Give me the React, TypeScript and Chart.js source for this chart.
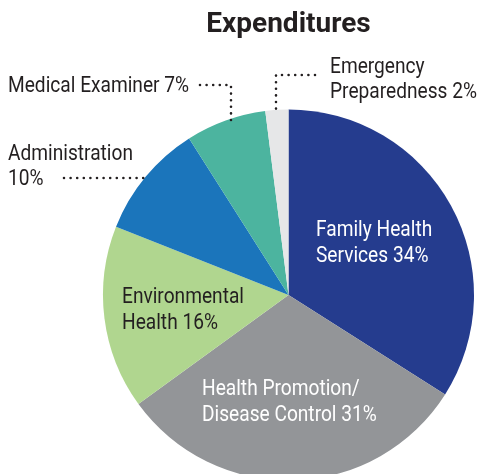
import React, { useEffect, useRef } from "react";
import { Chart, registerables } from "chart.js";

Chart.register(...registerables);

const titleText = "Expenditures";
const categories = [
  "Family Health Services",
  "Health Promotion/Disease Control",
  "Environmental Health",
  "Administration",
  "Medical Examiner",
  "Emergency Preparedness",
];
const values = [34, 31, 16, 10, 7, 2];
const colors = ["#253c8e", "#939598", "#b0d68f", "#1b75bb", "#4cb49f", "#e6e7e8"];
const labelLines = [
  ["Family Health", "Services"],
  ["Health Promotion/", "Disease Control"],
  ["Environmental", "Health"],
  ["Administration", ""],
  ["Medical Examiner"],
  ["Emergency", "Preparedness"],
];

const DARK = "#231f20";
const SX = 0.87;

function linesFor(i: number): string[] {
  const l = labelLines[i].slice();
  const last = l.length - 1;
  l[last] = l[last] ? `${l[last]} ${values[i]}%` : `${values[i]}%`;
  return l;
}

const labelPlugin = {
  id: "customLabels",
  afterDraw(chart: any) {
    const ctx: CanvasRenderingContext2D = chart.ctx;
    const drawLine = (t: string, x: number, y: number, color: string) => {
      ctx.save();
      ctx.translate(x, y);
      ctx.scale(SX, 1);
      ctx.font = "22px Roboto";
      ctx.fillStyle = color;
      ctx.textAlign = "left";
      ctx.textBaseline = "alphabetic";
      ctx.fillText(t, 0, 0);
      ctx.restore();
    };
    const drawBlock = (i: number, x: number, y: number, lh: number, color: string) => {
      linesFor(i).forEach((t, k) => drawLine(t, x, y + k * lh, color));
    };
    const dots = (pts: number[][]) => {
      ctx.save();
      ctx.strokeStyle = DARK;
      ctx.lineWidth = 2.6;
      ctx.lineCap = "round";
      ctx.setLineDash([0, 6.6]);
      ctx.beginPath();
      ctx.moveTo(pts[0][0], pts[0][1]);
      for (let k = 1; k < pts.length; k++) ctx.lineTo(pts[k][0], pts[k][1]);
      ctx.stroke();
      ctx.restore();
    };

    // title
    ctx.save();
    ctx.font = "bold 28px Roboto";
    ctx.fillStyle = DARK;
    ctx.textAlign = "center";
    ctx.textBaseline = "alphabetic";
    ctx.fillText(titleText, 288.5, 32);
    ctx.restore();

    // inner labels
    drawBlock(0, 316, 236, 26, "#ffffff");
    drawBlock(1, 202, 395, 26, "#ffffff");
    drawBlock(2, 122, 303, 26, DARK);

    // outer labels
    drawBlock(3, 8, 160, 25, DARK);
    drawBlock(4, 8, 92, 25, DARK);
    drawBlock(5, 330, 73, 25, DARK);

    dots([[64, 178], [146, 178]]);
    dots([[200, 85], [231, 85], [231, 125]]);
    dots([[315, 75], [276, 75], [276, 110]]);
  },
};

export default function App() {
  const ref = useRef<HTMLCanvasElement>(null);
  useEffect(() => {
    if (!ref.current) return;
    const chart = new Chart(ref.current, {
      type: "pie",
      data: {
        labels: categories,
        datasets: [
          {
            data: values,
            backgroundColor: colors,
            borderWidth: 0,
          },
        ],
      },
      options: {
        animation: false,
        responsive: false,
        layout: { padding: { left: 103, right: 3, top: 109.5, bottom: 19.5 } },
        plugins: {
          legend: { display: false },
          tooltip: { enabled: false },
          title: { display: false },
        },
      },
      plugins: [labelPlugin],
    });
    return () => chart.destroy();
  }, []);
  return (
    <div
      style={{
        position: "absolute",
        left: 0,
        top: 0,
        width: 477,
        height: 474,
        overflow: "hidden",
        background: "#ffffff",
      }}
    >
      <canvas ref={ref} width={477} height={500} style={{ display: "block", width: 477, height: 500 }} />
    </div>
  );
}
